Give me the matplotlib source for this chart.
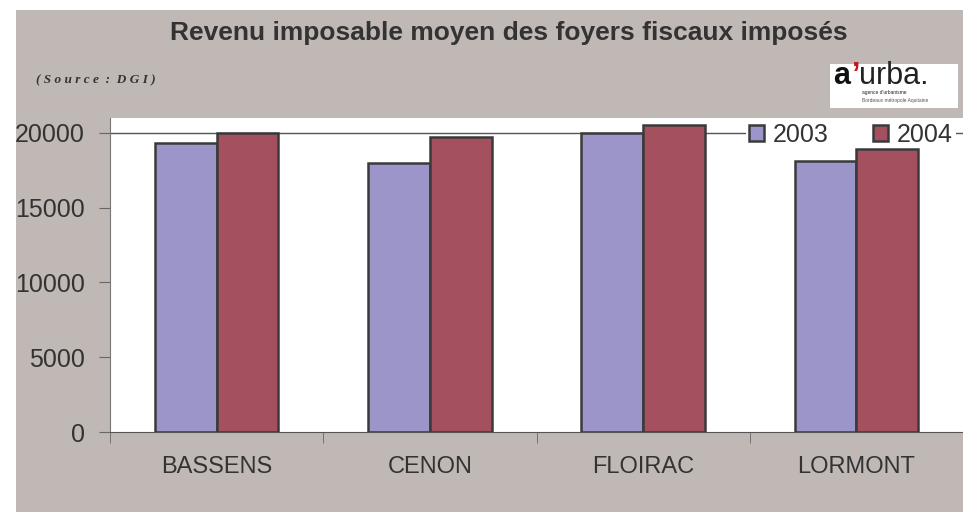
import numpy as np
import matplotlib.pyplot as plt
from matplotlib.patches import Rectangle

plt.rcParams['font.family'] = ['Liberation Sans', 'DejaVu Sans']

communes = ['BASSENS', 'CENON', 'FLOIRAC', 'LORMONT']
rev_2003 = [19350, 18000, 20000, 18150]
rev_2004 = [20000, 19750, 20550, 18950]
years = ['2003', '2004']

bg = '#c0b8b5'
txt = '#333333'
edge = '#3a3a3a'

fig = plt.figure(figsize=(9.63, 5.13), dpi=100)
fig.patch.set_facecolor('white')
# grey frame behind the chart
fig.patches.append(Rectangle((16 / 963, 1 / 513), 947 / 963, 502 / 513,
                             transform=fig.transFigure, facecolor=bg,
                             edgecolor='none', zorder=-5))

ax = fig.add_axes([110 / 963, 81 / 513, 853 / 963, 314 / 513])
ax.set_facecolor('white')

x = np.arange(len(communes))
w = 0.29
ax.bar(x - w / 2, rev_2003, w, color='#9c95c9', edgecolor=edge, linewidth=1.8,
       label=years[0], zorder=3)
ax.bar(x + w / 2, rev_2004, w, color='#a5505f', edgecolor=edge, linewidth=1.8,
       label=years[1], zorder=3)
ax.axhline(20000, color='#555555', linewidth=1, zorder=1)

ax.set_xlim(-0.5, len(communes) - 0.5)
ax.set_ylim(0, 21000)
ax.set_yticks([0, 5000, 10000, 15000, 20000])
ax.set_xticks(x)
ax.set_xticklabels(communes)
ax.set_xticks(np.arange(-0.5, len(communes), 1), minor=True)
ax.tick_params(axis='x', which='major', length=0, pad=17, labelsize=17,
               labelcolor=txt)
ax.tick_params(axis='x', which='minor', length=8, direction='out',
               color='#666666')
ax.tick_params(axis='y', length=8, pad=10, labelsize=18, labelcolor=txt,
               color='#666666')
for s in ['top', 'right']:
    ax.spines[s].set_visible(False)
ax.spines['left'].set_color('#777777')
ax.spines['bottom'].set_color('#555555')

leg = ax.legend(loc='upper right', bbox_to_anchor=(1.006, 1.032), ncol=2,
                fontsize=18, frameon=True, fancybox=False, edgecolor='none',
                facecolor='white', framealpha=1, handlelength=0.6,
                handleheight=0.6, handletextpad=0.35, columnspacing=1.8,
                borderpad=0.1)
for t in leg.get_texts():
    t.set_color(txt)
leg.set_zorder(2)

fig.text(509 / 963, 1 - 33 / 513, 'Revenu imposable moyen des foyers fiscaux imposés',
         ha='center', va='center', fontsize=19, fontweight='bold', color=txt)
fig.text(36 / 963, 1 - 80 / 513, '( S o u r c e  :  D G I )', ha='left',
         va='center', fontsize=9.5, fontstyle='italic', fontweight='bold',
         family=['Liberation Serif'], color=txt)

# logo box
fig.patches.append(Rectangle((830 / 963, 1 - 108 / 513), 128 / 963, 44 / 513,
                             transform=fig.transFigure, facecolor='white',
                             edgecolor='none', zorder=1))
fig.text(833 / 963, 1 - 84 / 513, 'a', ha='left', va='baseline', fontsize=22,
         fontweight='bold', color='#111111')
fig.text(852 / 963, 1 - 84 / 513, '\u2019', ha='left', va='baseline',
         fontsize=22, fontweight='bold', color='#c0161c')
fig.text(859 / 963, 1 - 84 / 513, 'urba.', ha='left', va='baseline',
         fontsize=22, color='#222222')
fig.text(862 / 963, 1 - 94 / 513, "agence d'urbanisme", ha='left',
         va='baseline', fontsize=3.5, color='#222222')
fig.text(862 / 963, 1 - 102 / 513, 'Bordeaux métropole Aquitaine', ha='left',
         va='baseline', fontsize=3.5, color='#555555')

fig.savefig('out.png', dpi=100)
